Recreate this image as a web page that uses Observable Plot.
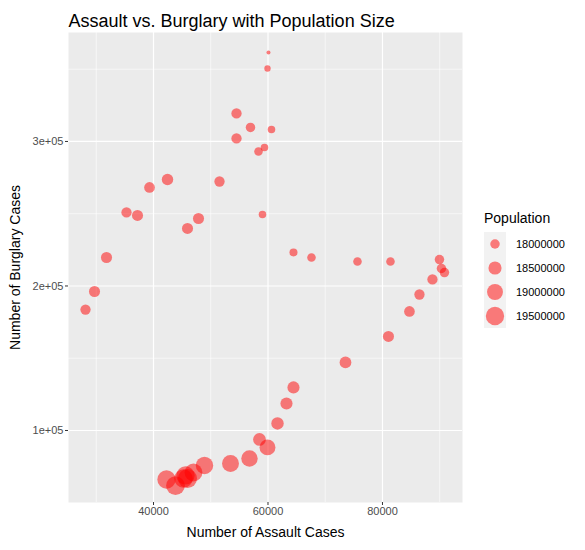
<!DOCTYPE html>
<html>
<head>
<meta charset="utf-8">
<script src="https://cdn.jsdelivr.net/npm/d3@7"></script>
<script src="https://cdn.jsdelivr.net/npm/@observablehq/plot@0.6"></script>
<style>
  body { margin: 0; background: #fff; font-family: "Liberation Sans", Arial, sans-serif; }
  #wrap { position: relative; width: 585px; height: 550px; }
  #legend { position: absolute; left: 476px; top: 208px; }
</style>
</head>
<body>
<div id="wrap"><div id="chart"></div><div id="legend"></div></div>
<script>
const assault = [60087, 59912, 60611, 54497, 56943, 54497, 58340, 59388, 51528, 42445,
  39300, 35283, 37205, 45939, 47860, 59039, 31790, 29694, 28122, 64454,
  67598, 75633, 81397, 89955, 90305, 90829, 88733, 86462, 84715, 81047,
  73537, 64454, 63231, 61659, 58515, 59912, 56768, 53450, 48908, 46987,
  45590, 45240, 42271, 43843, 45939];
const burglary = [361600, 350500, 308300, 319400, 309700, 302100, 293100, 295800, 272300, 273700,
  268200, 250900, 248800, 239800, 246700, 249500, 219700, 196200, 183700, 223200,
  219700, 217000, 217000, 218300, 212100, 209300, 204500, 194100, 182400, 165100,
  147100, 129800, 118700, 104900, 93800, 88300, 80600, 77200, 75800, 70900,
  68900, 66800, 66100, 61900, 66800];
const population = [17.55e6, 17.7e6, 17.8e6, 18.1e6, 18.0e6, 18.1e6, 17.9e6, 17.8e6, 18.1e6, 18.25e6,
  18.15e6, 18.1e6, 18.2e6, 18.2e6, 18.2e6, 17.8e6, 18.2e6, 18.2e6, 18.1e6, 17.85e6,
  17.9e6, 17.9e6, 17.9e6, 18.0e6, 18.0e6, 18.0e6, 18.1e6, 18.1e6, 18.15e6, 18.2e6,
  18.3e6, 18.35e6, 18.35e6, 18.4e6, 18.45e6, 19.0e6, 19.1e6, 19.2e6, 19.3e6, 19.4e6,
  19.5e6, 19.55e6, 19.5e6, 19.6e6, 19.65e6];
const legendPops = [18000000, 18500000, 19000000, 19500000];

const data = assault.map((a, i) => ({assault: a, burglary: burglary[i], pop: population[i]}));

// ggplot-like size scale: area linear in population
const minPop = d3.min(population), maxPop = d3.max(population);
const area = d3.scaleLinear().domain([minPop, maxPop]).range([4, 90]);
const rad = (p) => Math.sqrt(area(p));

const tickFont = {fill: "#4d4d4d", fontSize: 11};

const plot = Plot.plot({
  width: 585,
  height: 550,
  marginTop: 32,
  marginBottom: 48,
  marginLeft: 68,
  marginRight: 123,
  style: {fontFamily: "Liberation Sans, Arial, sans-serif", background: "#fff"},
  x: {domain: [25150, 93980], label: null, axis: null},
  y: {domain: [50170, 375400], label: null, axis: null},
  r: {type: "identity"},
  marks: [
    Plot.frame({fill: "#ebebeb", stroke: null}),
    Plot.ruleX([30000, 50000, 70000, 90000], {stroke: "#fff", strokeWidth: 0.6}),
    Plot.ruleY([150000, 250000, 350000], {stroke: "#fff", strokeWidth: 0.6}),
    Plot.ruleX([40000, 60000, 80000], {stroke: "#fff", strokeWidth: 1.2}),
    Plot.ruleY([100000, 200000, 300000], {stroke: "#fff", strokeWidth: 1.2}),
    Plot.axisX([40000, 60000, 80000], {tickSize: 3, tickPadding: 2, stroke: "#333", ...tickFont,
      tickFormat: (d) => String(d), label: "Number of Assault Cases", labelAnchor: "center",
      labelOffset: 34, labelArrow: "none"}),
    Plot.axisY([100000, 200000, 300000], {tickSize: 3, tickPadding: 2, stroke: "#333", ...tickFont,
      tickFormat: (d) => (d / 1e5) + "e+05", label: "Number of Burglary Cases", labelAnchor: "center",
      labelOffset: 58, labelArrow: "none"}),
    Plot.dot(data, {x: "assault", y: "burglary", r: (d) => rad(d.pop), fill: "red", fillOpacity: 0.5}),
    Plot.text(["Assault vs. Burglary with Population Size"], {frameAnchor: "top-left", dx: 0, dy: -18,
      textAnchor: "start", fontSize: 18, fill: "#000"})
  ]
});
plot.querySelectorAll("[aria-label='x-axis label'] text, [aria-label='y-axis label'] text").forEach(t => {
  t.setAttribute("font-size", 14); t.setAttribute("fill", "#000");
});
document.getElementById("chart").appendChild(plot);

// size legend
const lg = d3.select("#legend").append("svg").attr("width", 105).attr("height", 125)
  .style("font-family", "Liberation Sans, Arial, sans-serif");
lg.append("text").attr("x", 8).attr("y", 15).attr("font-size", 14).text("Population");
const row = lg.selectAll("g").data(legendPops).join("g")
  .attr("transform", (d, i) => `translate(8, ${24 + i * 24})`);
row.append("rect").attr("width", 22).attr("height", 24).attr("fill", "#f2f2f2");
row.append("circle").attr("cx", 11).attr("cy", 12).attr("r", (d) => rad(d))
  .attr("fill", "red").attr("fill-opacity", 0.5);
row.append("text").attr("x", 32).attr("y", 16).attr("font-size", 11).attr("fill", "#000").text((d) => d);
</script>
</body>
</html>
